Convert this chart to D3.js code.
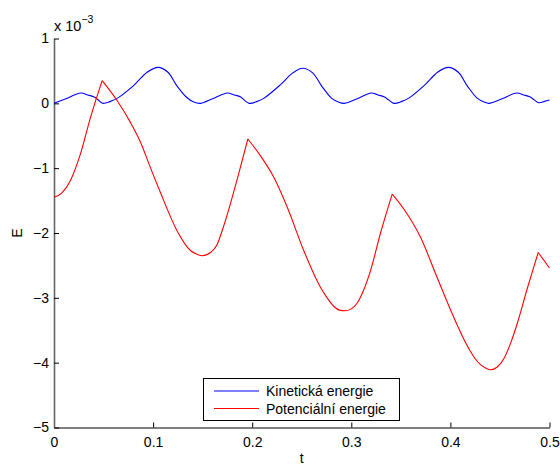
<!DOCTYPE html>
<html><head><meta charset="utf-8">
<script src="https://cdn.jsdelivr.net/npm/d3@7"></script>
<style>
html,body{margin:0;padding:0;background:#fff;}
text{font-family:"Liberation Sans",Arial,Helvetica,sans-serif;fill:#000;}
</style></head>
<body><svg id="c" width="560" height="465"></svg>
<script>
// ---- data (values in units of 1e-3) ----
const xTicks = [0, 0.1, 0.2, 0.3, 0.4, 0.5];
const yTicks = [-5, -4, -3, -2, -1, 0, 1];
const seriesNames = ["Kinetická energie", "Potenciální energie"];
const xLabel = "t";
const yLabel = "E";

const kinT = [0,0.012,0.027,0.034,0.040,0.044,0.049,0.057,0.064,0.080,0.094,0.105,0.115,0.124,0.134,0.141,0.148,
  0.160,0.175,0.182,0.188,0.192,0.197,0.205,0.212,0.228,0.241,0.251,0.261,0.270,0.280,0.287,0.293,
  0.306,0.320,0.327,0.333,0.338,0.343,0.351,0.358,0.374,0.387,0.398,0.408,0.417,0.427,0.434,0.439,
  0.452,0.467,0.474,0.480,0.485,0.489,0.495,0.500];
const kinE = [0.0,0.07,0.16,0.13,0.10,0.06,0.0,0.03,0.08,0.27,0.48,0.555,0.48,0.27,0.09,0.02,0.0,
  0.07,0.16,0.13,0.10,0.05,0.0,0.03,0.08,0.28,0.47,0.54,0.47,0.27,0.08,0.02,0.0,
  0.07,0.16,0.13,0.10,0.05,0.0,0.03,0.08,0.28,0.48,0.555,0.48,0.27,0.08,0.02,0.0,
  0.07,0.16,0.13,0.10,0.05,0.01,0.03,0.05];

// potential energy: segments split at the sharp peaks
const potT = [0,0.008,0.0166,0.0267,0.0368,0.0486,
  0.0638,0.077,0.0873,0.097,0.1075,0.124,0.1377,0.143,0.1496,0.158,0.1645,0.170,0.178,0.187,0.1956,
  0.2084,0.2218,0.2353,0.252,0.269,0.2765,0.2823,0.288,0.2935,0.300,0.306,0.3125,0.3194,0.3295,0.3413,
  0.353,0.370,0.3867,0.4034,0.415,0.420,0.425,0.4304,0.435,0.4405,0.447,0.4539,0.4605,0.4674,0.4775,0.4886,
  0.500];
const potE = [-1.45,-1.38,-1.19,-0.78,-0.22,0.35,
  0.04,-0.29,-0.60,-0.98,-1.38,-1.96,-2.27,-2.32,-2.35,-2.30,-2.18,-1.95,-1.55,-1.05,-0.55,
  -0.81,-1.14,-1.60,-2.27,-2.84,-3.02,-3.13,-3.19,-3.20,-3.17,-3.08,-2.88,-2.58,-2.00,-1.40,
  -1.63,-2.07,-2.69,-3.30,-3.68,-3.82,-3.94,-4.03,-4.08,-4.11,-4.07,-3.94,-3.71,-3.40,-2.86,-2.30,
  -2.54];
const potPeaks = [0.0486, 0.1956, 0.3413, 0.4886];

const svg = d3.select("#c");
const x = d3.scaleLinear().domain([0, 0.5]).range([54, 549.5]);
const y = d3.scaleLinear().domain([-5, 1]).range([427.5, 38.5]);

// axes
const xAxis = d3.axisBottom(x).tickValues(xTicks).tickSizeInner(-5).tickSizeOuter(0).tickPadding(10)
  .tickFormat(d3.format(""));
const yAxis = d3.axisLeft(y).tickValues(yTicks).tickSizeInner(-5).tickSizeOuter(0).tickPadding(5)
  .tickFormat(d3.format(""));
const gx = svg.append("g").attr("transform", `translate(0,${y(-5)})`).call(xAxis);
const gy = svg.append("g").attr("transform", `translate(${x(0)},0)`).call(yAxis);
[gx, gy].forEach(g => {
  g.selectAll("path.domain").attr("stroke", "#000").attr("stroke-width", 1);
  g.selectAll(".tick line").attr("stroke", "#000").attr("stroke-width", 1);
  g.selectAll("text").attr("font-size", 14).attr("font-family", '"Liberation Sans",Arial,sans-serif').attr("fill", "#000");
});
gy.select("path.domain").attr("stroke", "#666").attr("stroke-width", 1.6);

// data lines
const kinData = kinT.map((t, i) => [t, kinE[i]]);
const potData = potT.map((t, i) => [t, potE[i]]);
const lineK = d3.line().x(d => x(d[0])).y(d => y(d[1])).curve(d3.curveCatmullRom.alpha(0.5));
const lineP = d3.line().x(d => x(d[0])).y(d => y(d[1])).curve(d3.curveMonotoneX);

svg.append("path").datum(kinData).attr("d", lineK)
  .attr("fill", "none").attr("stroke", "#0000ff").attr("stroke-width", 1.1);

// split potential curve at peaks so corners stay sharp
const cuts = [0, ...potPeaks, 0.5];
for (let i = 0; i < cuts.length - 1; i++) {
  const seg = potData.filter(d => d[0] >= cuts[i] - 1e-9 && d[0] <= cuts[i + 1] + 1e-9);
  svg.append("path").datum(seg).attr("d", lineP)
    .attr("fill", "none").attr("stroke", "#ff0000").attr("stroke-width", 1.1);
}

// exponent label
const ex = svg.append("text").attr("x", 54).attr("y", 31).attr("font-size", 14.5);
ex.append("tspan").text("x 10");
ex.append("tspan").attr("font-size", 10.5).attr("dy", -8.5).text("\u22123");

// axis labels
svg.append("text").attr("x", x(0.25)).attr("y", 463).attr("text-anchor", "middle")
  .attr("font-size", 14).text(xLabel);
svg.append("text").attr("transform", `translate(22,${(y(-5) + y(1)) / 2}) rotate(-90)`)
  .attr("text-anchor", "middle").attr("font-size", 14).text(yLabel);

// legend
const lg = svg.append("g");
lg.append("rect").attr("x", 203.5).attr("y", 378.5).attr("width", 196).attr("height", 42)
  .attr("fill", "#fff").attr("stroke", "#000").attr("stroke-width", 1);
const colors = ["#0000ff", "#ff0000"];
seriesNames.forEach((name, i) => {
  const yy = 391 + i * 17.5;
  lg.append("line").attr("x1", 214).attr("x2", 259).attr("y1", yy).attr("y2", yy)
    .attr("stroke", colors[i]).attr("stroke-width", 1.1);
  lg.append("text").attr("x", 266).attr("y", yy + 5.2).attr("font-size", 14).text(name);
});
</script></body></html>
